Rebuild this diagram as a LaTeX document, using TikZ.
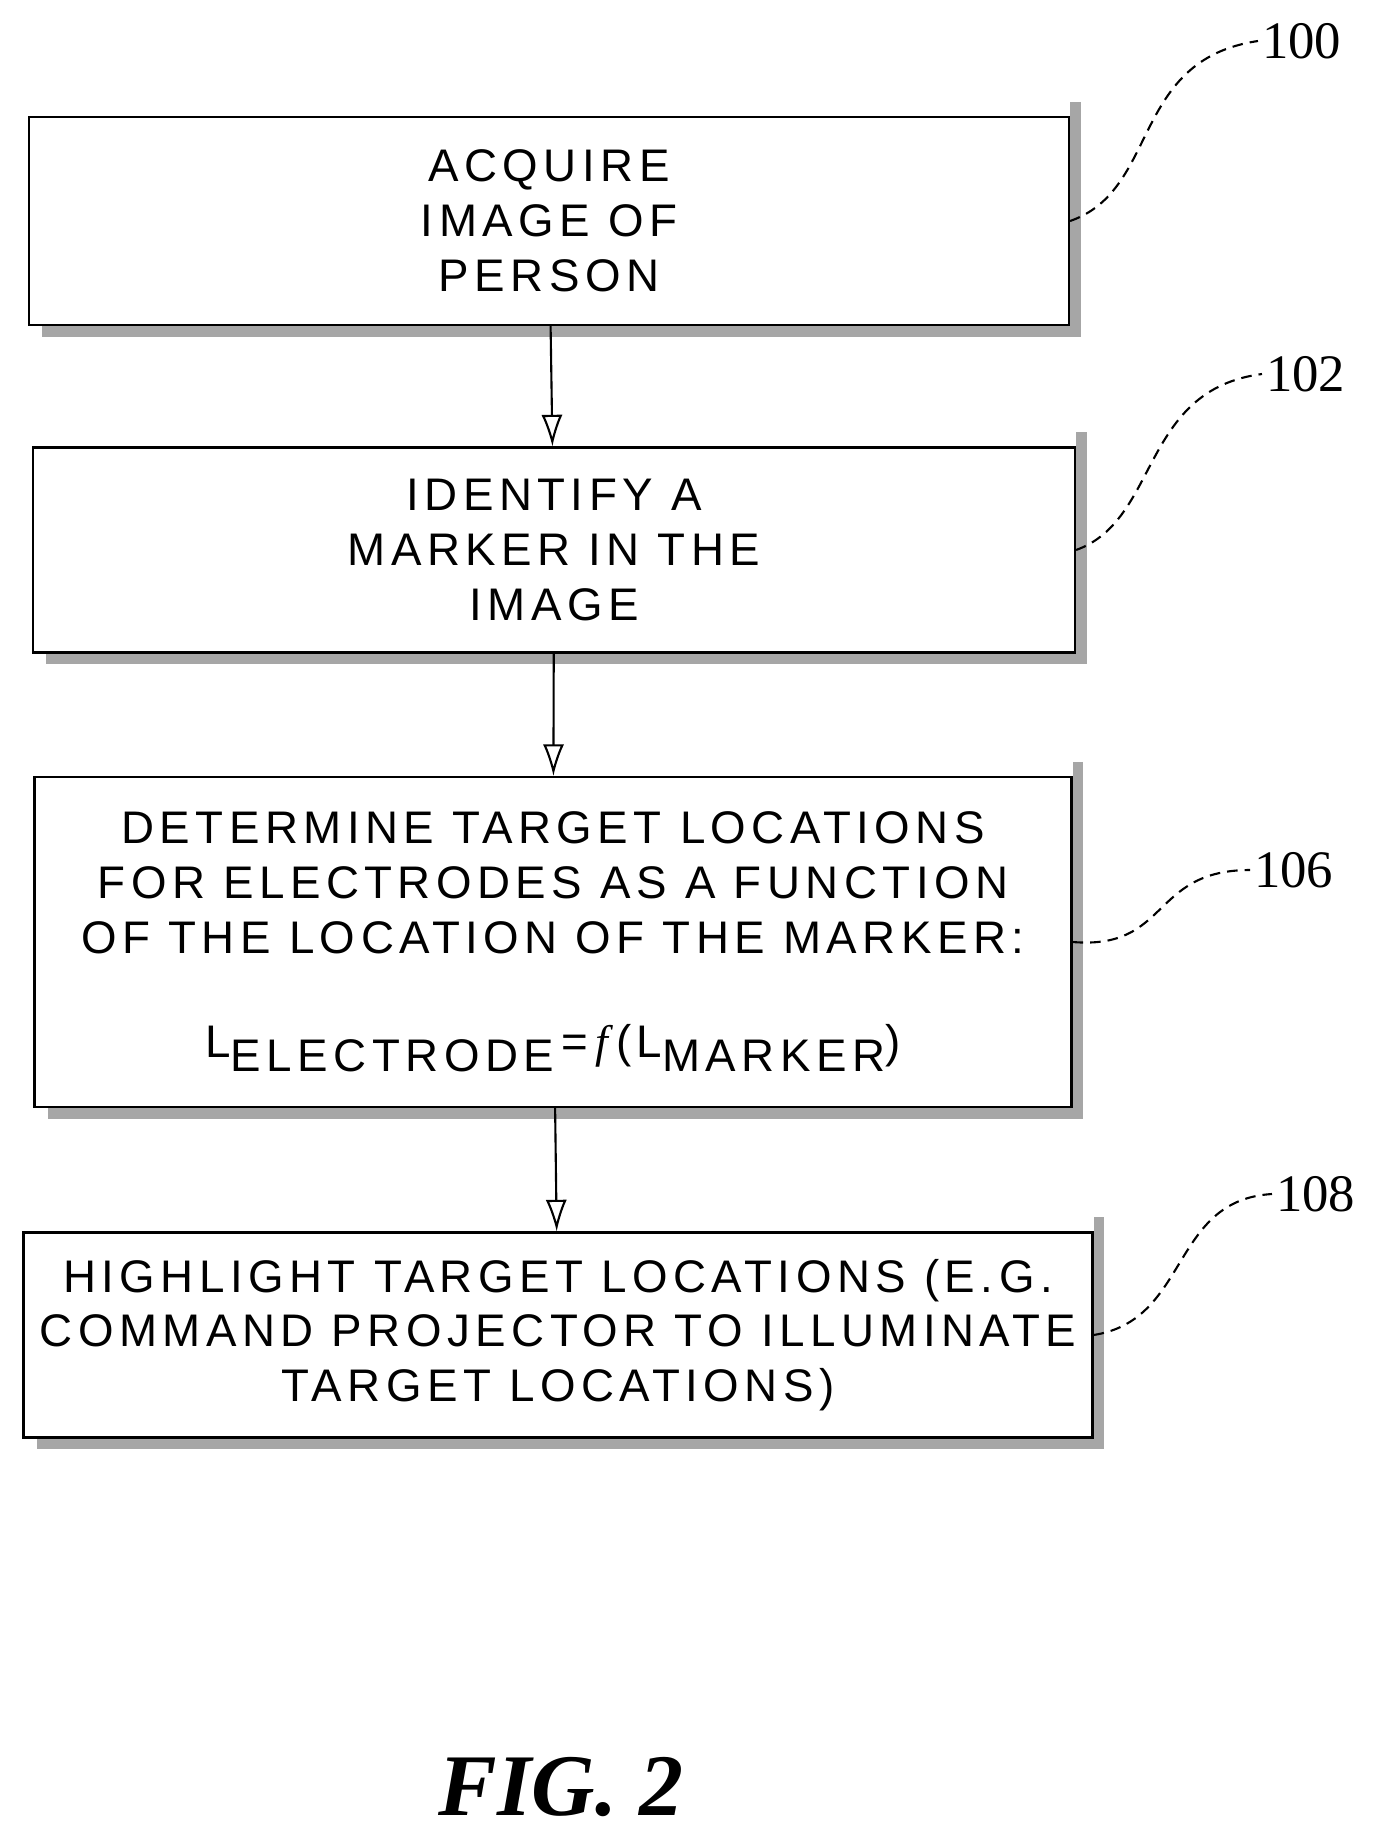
\documentclass[tikz,border=0pt]{standalone}
\usepackage{fontspec}
\setsansfont[LetterSpace=12]{Liberation Sans}
\setmainfont{Liberation Serif}
\usetikzlibrary{positioning,arrows.meta}

\tikzset{
  stepbox/.style={draw, line width=0.6pt, align=center, inner sep=0pt,
    font=\sffamily\fontsize{13}{15.6}\selectfont},
  flow/.style={-{Latex[length=9pt,width=6pt,open]}, line width=0.6pt},
  lead/.style={line width=0.6pt, densely dashed},
  ref/.style={font=\fontsize{15}{15}\selectfont, anchor=west, inner sep=1pt}
}
\newcommand{\boxshadow}[1]{%
  \draw[gray!70, line width=3pt] ([xshift=1.5pt,yshift=4pt]#1.north east) -- ([xshift=1.5pt,yshift=-1.5pt]#1.south east) -- ([xshift=4pt,yshift=-1.5pt]#1.south west);}

\begin{document}
\begin{tikzpicture}[x=0.1mm,y=-0.1mm]
  \useasboundingbox (0,0) rectangle (1384,1840);

  % boxes
  \node[stepbox, minimum width=10.4cm, minimum height=2.08cm] (s100) at (549,221)
    {ACQUIRE\\IMAGE OF\\PERSON};
  \node[stepbox, minimum width=10.42cm, minimum height=2.05cm] (s102) at (554,550)
    {IDENTIFY A\\MARKER IN THE\\IMAGE};
  \node[stepbox, minimum width=10.37cm, minimum height=3.3cm] (s106) at (553,942)
    {DETERMINE TARGET LOCATIONS\\FOR ELECTRODES AS A FUNCTION\\OF THE LOCATION OF THE MARKER:\\[14pt]
     L\raisebox{-0.6ex}{ELECTRODE}\,=\,$\mathit{f}$\,(L\raisebox{-0.6ex}{MARKER})};
  \node[stepbox, minimum width=10.69cm, minimum height=2.05cm] (s108) at (558,1335)
    {HIGHLIGHT TARGET LOCATIONS (E.G.\\COMMAND PROJECTOR TO ILLUMINATE\\TARGET LOCATIONS)};
  \foreach \b in {s100,s102,s106,s108} {\boxshadow{\b}}

  % arrows
  \draw[flow] (s100) -- (s102);
  \draw[flow] (s102) -- (s106);
  \draw[flow] (s106) -- (s108);

  % reference numerals
  \node[ref] (n100) at (1258,41) {100};
  \node[ref] (n102) at (1262,374) {102};
  \node[ref] (n106) at (1250,870) {106};
  \node[ref] (n108) at (1272,1194) {108};
  \draw[lead] (s100.east) .. controls (1160,190) and (1130,60) .. (n100.west);
  \draw[lead] (s102.east) .. controls (1160,520) and (1140,390) .. (n102.west);
  \draw[lead] (s106.east) .. controls (1170,950) and (1150,870) .. (n106.west);
  \draw[lead] (s108.east) .. controls (1190,1320) and (1170,1200) .. (n108.west);

  \node[font=\bfseries\itshape\fontsize{25}{25}\selectfont] (fig) at (561,1787) {FIG. 2};
\end{tikzpicture}
\end{document}
